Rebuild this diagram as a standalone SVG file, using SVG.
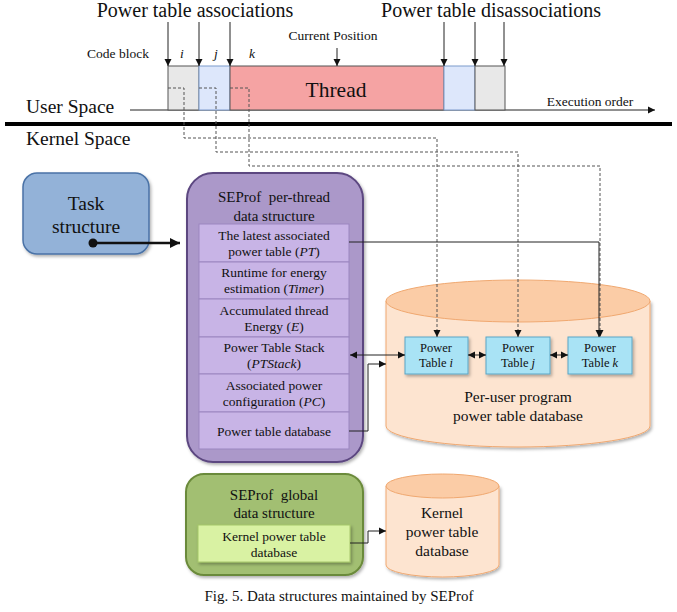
<svg xmlns="http://www.w3.org/2000/svg" width="677" height="612" viewBox="0 0 677 612" font-family="'Liberation Serif', 'DejaVu Serif', 'Times New Roman', serif">
<style>
text{font-family:'Liberation Serif','DejaVu Serif','Times New Roman',serif;fill:#111}
.big{font-size:20px}
.us{font-size:19.5px}
.sm{font-size:13.5px}
.row{font-size:13.5px;text-anchor:middle}
.ttl{font-size:15px;text-anchor:middle}
.db{font-size:15.5px;text-anchor:middle}
.pt{font-size:12.5px;text-anchor:middle}
.ln{fill:none;stroke:#222;stroke-width:1}
.dash{fill:none;stroke:#555;stroke-width:1;stroke-dasharray:3,2}
.rowbox{fill:#c8b4e6;stroke:#9b86c0;stroke-width:1}
.ptbox{fill:#a9e3f5;stroke:#5aa6c6;stroke-width:1}
</style>
<defs>
<marker id="ah" markerWidth="8" markerHeight="8" refX="7" refY="4" orient="auto" markerUnits="userSpaceOnUse">
<path d="M0,0.5 L7,4 L0,7.5 Z" fill="#111"/>
</marker>
<marker id="ahs" markerWidth="8" markerHeight="8" refX="1" refY="4" orient="auto" markerUnits="userSpaceOnUse">
<path d="M8,0.5 L1,4 L8,7.5 Z" fill="#111"/>
</marker>
<marker id="ahb" markerWidth="12" markerHeight="12" refX="10" refY="6" orient="auto" markerUnits="userSpaceOnUse">
<path d="M0,1 L10,6 L0,11 Z" fill="#111"/>
</marker>
<filter id="sh" x="-10%" y="-10%" width="130%" height="130%">
<feDropShadow dx="1.5" dy="2" stdDeviation="1.5" flood-color="#000" flood-opacity="0.3"/>
</filter>
</defs>

<!-- Timeline -->
<g id="timeline">
<text class="big" x="195" y="17" text-anchor="middle">Power table associations</text>
<text class="big" x="491" y="17" text-anchor="middle">Power table disassociations</text>
<text class="sm" x="118" y="58" text-anchor="middle">Code block</text>
<text class="sm" x="180" y="58" font-style="italic">i</text>
<text class="sm" x="214" y="58" font-style="italic">j</text>
<text class="sm" x="249" y="58" font-style="italic">k</text>
<text class="sm" x="333" y="40" text-anchor="middle">Current Position</text>
<line class="ln" x1="130" y1="110" x2="655" y2="110" stroke="#666" marker-end="url(#ah)"/>
<text class="sm" x="590" y="106" text-anchor="middle">Execution order</text>
<rect x="168" y="66" width="31" height="44" fill="#e8e8e8" stroke="#555"/>
<rect x="199" y="66" width="31" height="44" fill="#dde7fb" stroke="#7d9bcc"/>
<rect x="230" y="66" width="214" height="44" fill="#f5a3a3" stroke="#555"/>
<rect x="444" y="66" width="31" height="44" fill="#dde7fb" stroke="#7d9bcc"/>
<rect x="475" y="66" width="30" height="44" fill="#e8e8e8" stroke="#555"/>
<text x="336" y="97" font-size="21.5" text-anchor="middle">Thread</text>
<text class="us" x="26" y="113">User Space</text>
<line x1="5" y1="124" x2="672" y2="124" stroke="#000" stroke-width="4"/>
<text class="us" x="26" y="145">Kernel Space</text>
</g>

<!-- per-thread structure -->
<g id="perthread">
<rect x="187" y="173" width="176" height="289" rx="26" fill="#ab98c9" stroke="#5c4780" stroke-width="2" filter="url(#sh)"/>
<text class="ttl" x="274" y="202">SEProf&#160; per-thread</text>
<text class="ttl" x="274" y="221">data structure</text>
<rect class="rowbox" x="199" y="224" width="150" height="38"/>
<text class="row" x="274" y="240">The latest associated</text>
<text class="row" x="274" y="256">power table (<tspan font-style="italic">PT</tspan>)</text>
<rect class="rowbox" x="199" y="262" width="150" height="37"/>
<text class="row" x="274" y="277">Runtime for energy</text>
<text class="row" x="274" y="293">estimation (<tspan font-style="italic">Timer</tspan>)</text>
<rect class="rowbox" x="199" y="299" width="150" height="38"/>
<text class="row" x="274" y="315">Accumulated thread</text>
<text class="row" x="274" y="331">Energy (<tspan font-style="italic">E</tspan>)</text>
<rect class="rowbox" x="199" y="337" width="150" height="37"/>
<text class="row" x="274" y="352">Power Table Stack</text>
<text class="row" x="274" y="368">(<tspan font-style="italic">PTStack</tspan>)</text>
<rect class="rowbox" x="199" y="374" width="150" height="38"/>
<text class="row" x="274" y="390">Associated power</text>
<text class="row" x="274" y="406">configuration (<tspan font-style="italic">PC</tspan>)</text>
<rect class="rowbox" x="199" y="412" width="150" height="37"/>
<text class="row" x="274" y="436">Power table database</text>
</g>

<!-- Task structure -->
<g id="task">
<rect x="23" y="173" width="126" height="81" rx="14" fill="#93b2d8" stroke="#4a72a6" stroke-width="1.5" filter="url(#sh)"/>
<text x="86" y="210" font-size="19.5" text-anchor="middle">Task</text>
<text x="86" y="233" font-size="19.5" text-anchor="middle">structure</text>
</g>

<!-- per-user cylinder -->
<g id="peruser">
<path d="M386,301 L386,426 A132,21 0 0 0 650,426 L650,301 Z" fill="#fde4d0" stroke="#f0a870" stroke-width="1" filter="url(#sh)"/>
<ellipse cx="518" cy="301" rx="132" ry="21" fill="#fbcca6" stroke="#f0a870" stroke-width="1"/>
<text class="db" x="518" y="402">Per-user program</text>
<text class="db" x="518" y="421">power table database</text>
</g>
<g id="pti">
<rect class="ptbox" x="405" y="337" width="63" height="37" filter="url(#sh)"/>
<text class="pt" x="436" y="352">Power</text>
<text class="pt" x="436" y="367">Table <tspan font-style="italic">i</tspan></text>
</g>
<g id="ptj">
<rect class="ptbox" x="486" y="337" width="64" height="37" filter="url(#sh)"/>
<text class="pt" x="518" y="352">Power</text>
<text class="pt" x="518" y="367">Table <tspan font-style="italic">j</tspan></text>
</g>
<g id="ptk">
<rect class="ptbox" x="568" y="337" width="64" height="37" filter="url(#sh)"/>
<text class="pt" x="600" y="352">Power</text>
<text class="pt" x="600" y="367">Table <tspan font-style="italic">k</tspan></text>
</g>

<!-- global structure -->
<g id="global">
<rect x="186" y="474" width="177" height="101" rx="18" fill="#a2bf72" stroke="#6b8a3a" stroke-width="2" filter="url(#sh)"/>
<text class="ttl" x="274" y="500">SEProf&#160; global</text>
<text class="ttl" x="274" y="518">data structure</text>
<rect x="198" y="525" width="152" height="37" fill="#d9f2a3" stroke="#a6c76a" stroke-width="1" filter="url(#sh)"/>
<text class="row" x="274" y="541">Kernel power table</text>
<text class="row" x="274" y="557">database</text>
</g>

<!-- kernel cylinder -->
<g id="kernel">
<path d="M386,486 L386,565 A56.5,12 0 0 0 499,565 L499,486 Z" fill="#fde4d0" stroke="#f0a870" stroke-width="1" filter="url(#sh)"/>
<ellipse cx="442.5" cy="486" rx="56.5" ry="12" fill="#fbcca6" stroke="#f0a870" stroke-width="1"/>
<text class="db" x="442" y="518">Kernel</text>
<text class="db" x="442" y="537">power table</text>
<text class="db" x="442" y="556">database</text>
</g>

<!-- connectors -->
<g id="connectors">
<line class="ln" x1="168" y1="22" x2="168" y2="66" marker-end="url(#ah)"/>
<line class="ln" x1="199" y1="22" x2="199" y2="66" marker-end="url(#ah)"/>
<line class="ln" x1="230" y1="22" x2="230" y2="66" marker-end="url(#ah)"/>
<line class="ln" x1="337" y1="48" x2="337" y2="66" marker-end="url(#ah)"/>
<line class="ln" x1="444" y1="22" x2="444" y2="66" marker-end="url(#ah)"/>
<line class="ln" x1="475" y1="22" x2="475" y2="66" marker-end="url(#ah)"/>
<line class="ln" x1="504" y1="22" x2="504" y2="66" marker-end="url(#ah)"/>
<path class="dash" d="M168,88 H184 V138 H437 V337" marker-end="url(#ah)"/>
<path class="dash" d="M199,88 H216 V152 H518 V337" marker-end="url(#ah)"/>
<path class="dash" d="M230,88 H249 V166 H600 V337" marker-end="url(#ah)"/>
<path class="ln" d="M349,242 H599 V337" marker-end="url(#ah)"/>
<circle cx="93" cy="243" r="4.5" fill="#111"/>
<line x1="93" y1="243" x2="180" y2="243" stroke="#111" stroke-width="2.5" marker-end="url(#ahb)"/>
<line class="ln" x1="350" y1="355" x2="405" y2="355" marker-start="url(#ahs)" marker-end="url(#ah)"/>
<line class="ln" x1="468" y1="355" x2="486" y2="355" marker-start="url(#ahs)" marker-end="url(#ah)"/>
<line class="ln" x1="550" y1="355" x2="568" y2="355" marker-start="url(#ahs)" marker-end="url(#ah)"/>
<path class="ln" d="M349,431 H368 V364 H386" marker-end="url(#ah)"/>
<path class="ln" d="M350,543 H368 V531 H386" marker-end="url(#ah)"/>
</g>

<text x="339" y="601" font-size="15" text-anchor="middle">Fig. 5. Data structures maintained by SEProf</text>
</svg>
